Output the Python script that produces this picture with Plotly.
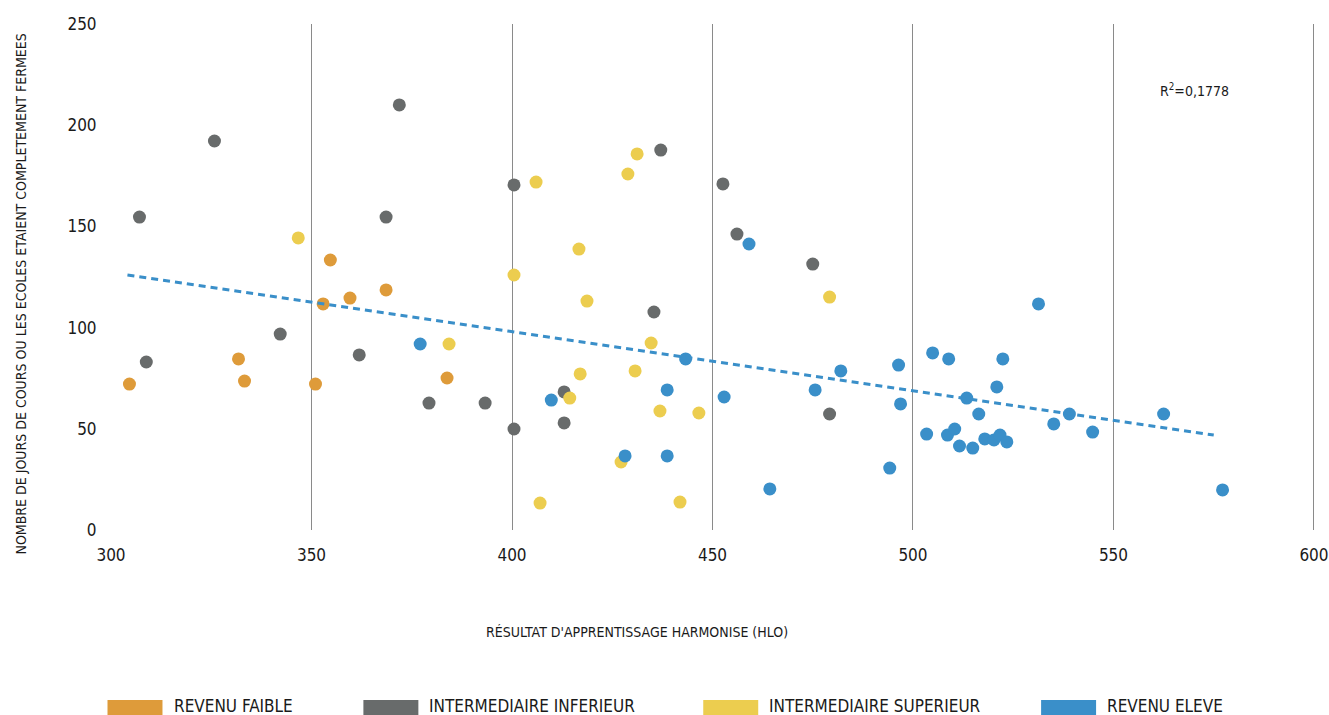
import plotly.graph_objects as go

# ---------------- data ----------------
faible_x = [304.6, 331.8, 333.3, 351.0, 352.9, 354.7, 359.6, 368.6, 383.8]
faible_y = [72.1, 84.5, 73.6, 72.1, 111.7, 133.4, 114.6, 118.6, 75.1]

inf_x = [307.1, 308.8, 325.8, 342.2, 361.9, 368.6, 371.9, 379.3, 393.3, 400.5,
         400.5, 413.0, 413.0, 435.4, 437.1, 452.6, 456.1, 475.0, 479.2]
inf_y = [154.6, 83.0, 192.2, 96.8, 86.5, 154.6, 210.0, 62.7, 62.7, 170.5,
         49.9, 68.2, 52.9, 107.7, 187.7, 171.0, 146.2, 131.4, 57.3]

sup_x = [346.7, 384.3, 400.5, 406.0, 407.0, 414.4, 416.7, 417.0, 418.7, 427.2,
         428.9, 430.7, 431.2, 434.7, 436.9, 441.9, 446.6, 479.2]
sup_y = [144.3, 91.9, 126.0, 171.9, 13.3, 65.2, 138.8, 77.1, 113.1, 33.6,
         175.9, 78.6, 185.8, 92.4, 58.8, 13.8, 57.8, 115.1]

eleve_x = [377.1, 409.8, 428.2, 438.7, 438.7, 443.3, 452.9, 459.1, 464.3, 475.6,
           482.0, 494.2, 496.4, 496.9, 503.4, 504.9, 508.6, 508.9, 510.4, 511.6,
           513.4, 514.9, 516.4, 517.9, 520.2, 520.9, 521.7, 522.4, 523.4, 531.3,
           535.1, 539.0, 544.8, 562.5, 577.2]
eleve_y = [91.9, 64.2, 36.6, 69.2, 36.6, 84.5, 65.7, 141.3, 20.3, 69.2,
           78.6, 30.6, 81.5, 62.3, 47.4, 87.5, 46.9, 84.5, 49.9, 41.5,
           65.2, 40.5, 57.3, 45.0, 44.5, 70.7, 46.9, 84.5, 43.5, 111.7,
           52.4, 57.3, 48.4, 57.3, 19.8]

trend_x = [304.1, 575.0]
trend_y = [126.0, 46.9]

x_ticks = [300, 350, 400, 450, 500, 550, 600]
y_ticks = [0, 50, 100, 150, 200, 250]

series_names = ["REVENU FAIBLE", "INTERMEDIAIRE INFERIEUR",
                "INTERMEDIAIRE SUPERIEUR", "REVENU ELEVE"]
r2_text = "R<sup>2</sup>=0,1778"
x_title = "RÉSULTAT D'APPRENTISSAGE HARMONISE (HLO)"
y_title = "NOMBRE DE JOURS DE COURS OU LES ECOLES ETAIENT COMPLETEMENT FERMEES"

# ---------------- style ----------------
colors = ["#DE9B3A", "#686B6B", "#ECCD4F", "#3A8FC9"]
FONT = "DejaVu Sans Condensed, sans-serif"
W, H = 1329, 715
X0, X1 = 300, 601
L, T, B = 110.5, 24, 530
SCALE = (1314 - 110.5) / 300.0
R = L + (X1 - X0) * SCALE


def px(xp):
    return (xp - L) / (R - L)


def py(yp):
    return (B - yp) / (B - T)


fig = go.Figure()

for xs, ys, c, n in zip([faible_x, inf_x, sup_x, eleve_x],
                        [faible_y, inf_y, sup_y, eleve_y], colors, series_names):
    fig.add_trace(go.Scatter(x=xs, y=ys, mode="markers", name=n,
                             marker=dict(color=c, size=13, line=dict(width=0)),
                             showlegend=False, cliponaxis=False))

fig.add_trace(go.Scatter(x=trend_x, y=trend_y, mode="lines", showlegend=False,
                         line=dict(color="#3A8FC9", width=3, dash="7px,5px")))

shapes = []
annotations = []

# legend drawn manually
sw_x = [107, 363, 703, 1041]
tx_x = [172, 427, 767, 1105]
for c, n, sx, tx in zip(colors, series_names, sw_x, tx_x):
    shapes.append(dict(type="rect", xref="paper", yref="paper",
                       x0=px(sx), x1=px(sx + 55), y0=py(700), y1=py(716),
                       fillcolor=c, line=dict(width=0)))
    annotations.append(dict(text=n, xref="paper", yref="paper", x=px(tx), y=py(706),
                            xanchor="left", yanchor="middle", showarrow=False,
                            font=dict(family=FONT, size=17, color="#1a1a1a")))

annotations.append(dict(text=x_title, xref="paper", yref="paper", x=px(637), y=py(632),
                        xanchor="center", yanchor="middle", showarrow=False,
                        font=dict(family=FONT, size=14, color="#1a1a1a")))
annotations.append(dict(text=y_title, xref="paper", yref="paper", x=px(20), y=py(294),
                        xanchor="center", yanchor="middle", showarrow=False, textangle=-90,
                        font=dict(family=FONT, size=14, color="#1a1a1a")))
annotations.append(dict(text=r2_text, xref="paper", yref="paper", x=px(1194), y=py(90),
                        xanchor="center", yanchor="middle", showarrow=False,
                        font=dict(family=FONT, size=14, color="#1a1a1a")))

fig.update_layout(
    width=W, height=H,
    margin=dict(l=L, r=W - R, t=T, b=H - B, autoexpand=False),
    plot_bgcolor="white", paper_bgcolor="white",
    shapes=shapes, annotations=annotations,
    xaxis=dict(range=[X0, X1], tickvals=x_ticks, showgrid=True, gridcolor="#8a8a8a",
               gridwidth=1, zeroline=False, showline=False, ticks="outside",
               ticklen=10, tickcolor="white", automargin=False,
               tickfont=dict(family=FONT, size=17, color="#1a1a1a")),
    yaxis=dict(range=[0, 250], tickvals=y_ticks, showgrid=False, zeroline=False,
               showline=False, ticks="outside", ticklen=10, tickcolor="white",
               automargin=False,
               tickfont=dict(family=FONT, size=17, color="#1a1a1a")),
    showlegend=False,
)

fig.write_html("out.html", config={"displayModeBar": False},
               post_script="document.body.style.margin='0';")
